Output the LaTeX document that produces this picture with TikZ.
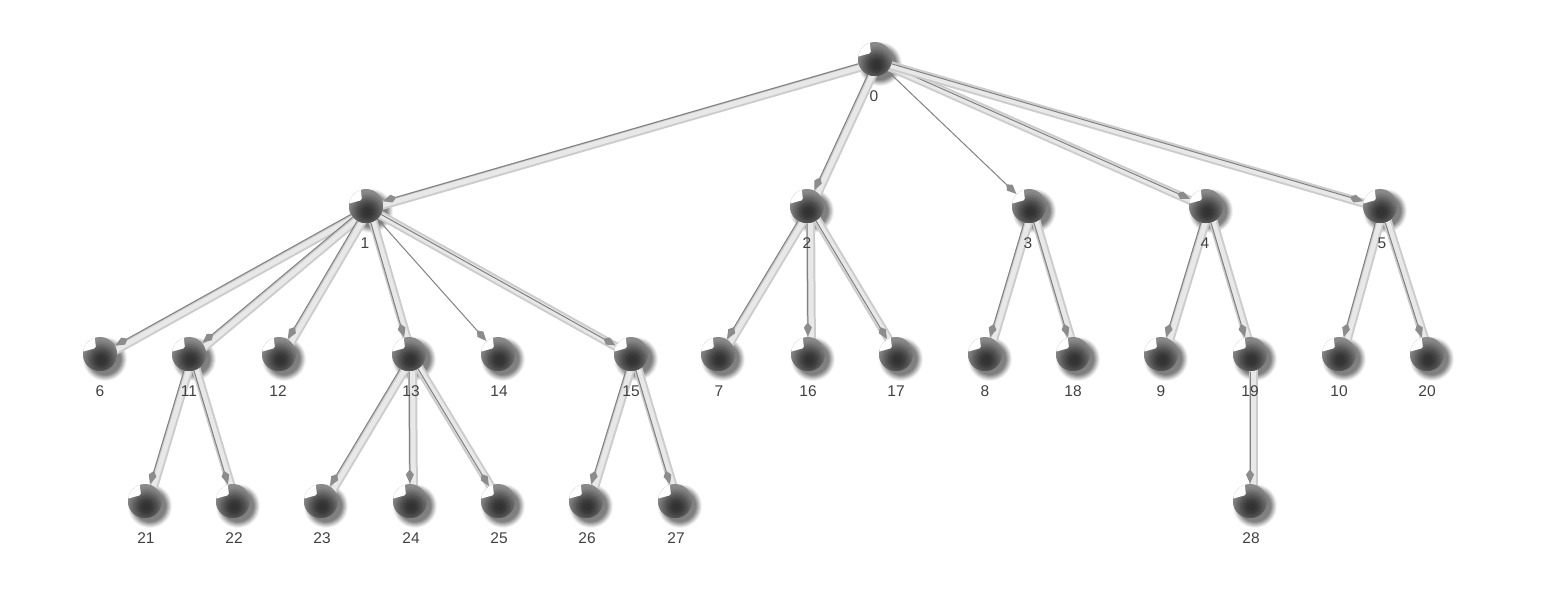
\documentclass[tikz,border=0pt]{standalone}
\usepackage{fontspec}
\setmainfont{Liberation Sans}
\usetikzlibrary{arrows.meta,backgrounds}
\tikzset{
  x=1pt,y=-1pt,
  sphere/.style={circle,minimum size=34pt,inner sep=0pt,outer sep=0.5pt,fill=black!46,
    path picture={
      \coordinate (pc) at (path picture bounding box.center);
      \foreach \rr/\kk in {20/48,18/52,16/57,14/62,12/67,10/71,8/75,6/78,4/80}{
        \fill[black!\kk] (pc) ++(1.5,6) circle[radius=\rr pt];}
      \fill[white,rounded corners=1.5pt] (pc) ++(-22,-1) -- ++(18,-5) -- ++(-2,-16) -- ++(-16,0) -- cycle;}},
  num/.style={font=\fontsize{15.5pt}{16pt}\selectfont,text=black!75,inner sep=0pt},
  band/.style={draw=black!20,line width=9pt,transform canvas={shift={(3.5pt,-3pt)}}},
  bandin/.style={draw=black!9,line width=5pt,transform canvas={shift={(3.5pt,-3pt)}}},
  wire/.style={draw=black!50,line width=1pt,-{Kite[length=14pt,width=8pt,inset=5pt,fill=black!45,color=black!45]}},
}
\newcommand{\ball}[4]{%
  \begin{scope}[on background layer]
    \foreach \rr/\kk in {22/5,21/12,20/20,19/28,18/36,17/44,16/50}{
      \fill[black!\kk] (#2+5,#3+5) circle[radius=\rr pt];}
  \end{scope}
  \node[sphere] (n#1) at (#2,#3) {};
  \node[num] (t#1) at (#4,#3+37) {#1};
}
\newcommand{\edge}[2]{%
  \draw[band] (n#1.center) -- (n#2.center);
  \draw[bandin] (n#1.center) -- (n#2.center);
  \draw[wire] (n#1) -- (n#2);
}
\newcommand{\thinedge}[2]{%
  \draw[wire] (n#1) -- (n#2);
}
\pgfdeclarelayer{edges}
\pgfsetlayers{background,edges,main}
\begin{document}
\begin{tikzpicture}
\useasboundingbox (0,0) rectangle (1561,590);
\ball{0}{875}{59}{874}
\ball{1}{366}{206}{365}
\ball{2}{807}{206}{807}
\ball{3}{1029}{206}{1028}
\ball{4}{1206}{206}{1205}
\ball{5}{1380}{206}{1382}
\ball{6}{100}{354}{100}
\ball{11}{189}{354}{189}
\ball{12}{279}{354}{278}
\ball{13}{409}{354}{411}
\ball{14}{498}{354}{499}
\ball{15}{631}{354}{631}
\ball{7}{718}{354}{719}
\ball{16}{808}{354}{808}
\ball{17}{896}{354}{896}
\ball{8}{985}{354}{985}
\ball{18}{1073}{354}{1073}
\ball{9}{1161}{354}{1161}
\ball{19}{1250}{354}{1250}
\ball{10}{1339}{354}{1339}
\ball{20}{1427}{354}{1427}
\ball{21}{145}{501}{146}
\ball{22}{233}{501}{234}
\ball{23}{321}{501}{322}
\ball{24}{410}{501}{411}
\ball{25}{498}{501}{499}
\ball{26}{586}{501}{587}
\ball{27}{675}{501}{676}
\ball{28}{1250}{501}{1251}
\begin{pgfonlayer}{edges}
\edge{0}{1}\edge{0}{2}\thinedge{0}{3}\edge{0}{4}\edge{0}{5}
\edge{1}{6}\edge{1}{11}\edge{1}{12}\edge{1}{13}\thinedge{1}{14}\edge{1}{15}
\edge{2}{7}\edge{2}{16}\edge{2}{17}
\edge{3}{8}\edge{3}{18}
\edge{4}{9}\edge{4}{19}
\edge{5}{10}\edge{5}{20}
\edge{11}{21}\edge{11}{22}
\edge{13}{23}\edge{13}{24}\edge{13}{25}
\edge{15}{26}\edge{15}{27}
\edge{19}{28}
\end{pgfonlayer}
\end{tikzpicture}
\end{document}
